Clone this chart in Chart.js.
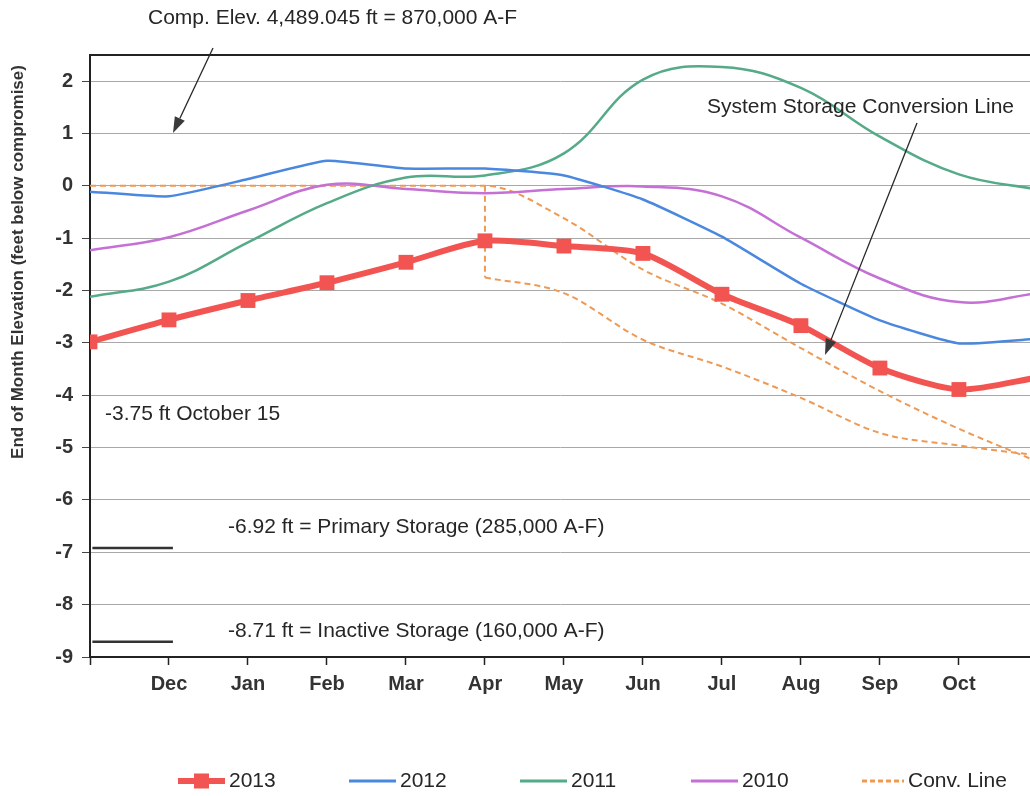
<!DOCTYPE html>
<html>
<head>
<meta charset="utf-8">
<script src="https://cdn.jsdelivr.net/npm/chart.js@4/dist/chart.umd.min.js"></script>
<style>
  html, body { margin: 0; padding: 0; background: #fff; overflow: hidden; }
  #wrap { position: relative; width: 1030px; height: 796px; }
</style>
</head>
<body>
<div id="wrap"><canvas id="elev"></canvas></div>
<script>
// x index: 0 = Nov (start of water year), 12 = Nov (next, runs off the right edge)
const monthX = [0, 1, 2, 3, 4, 5, 6, 7, 8, 9, 10, 11, 12];
const monthLabels = ['', 'Dec', 'Jan', 'Feb', 'Mar', 'Apr', 'May', 'Jun', 'Jul', 'Aug', 'Sep', 'Oct', ''];

// end of month elevation, feet below compromise
const y2013 = [-2.98, -2.56, -2.19, -1.85, -1.46, -1.05, -1.15, -1.29, -2.07, -2.67, -3.48, -3.89, -3.66];
const y2012 = [-0.11, -0.20, 0.13, 0.48, 0.33, 0.33, 0.20, -0.26, -0.97, -1.87, -2.57, -3.01, -2.92];
const y2011 = [-2.12, -1.83, -1.08, -0.33, 0.16, 0.20, 0.62, 2.03, 2.27, 1.87, 0.94, 0.22, -0.07];
const y2010 = [-1.23, -0.98, -0.47, 0.02, -0.06, -0.14, -0.06, -0.01, -0.20, -0.99, -1.77, -2.22, -2.05];

// system storage conversion line (upper and lower branch, drop at Apr)
const convUpper = [0, 0, 0, 0, 0, 0, -0.62, -1.60, -2.25, -3.10, -3.92, -4.64, -5.27];
const convLowerX = [5, 6, 7, 8, 9, 10, 11, 12];
const convLower = [-1.75, -2.05, -2.94, -3.45, -4.05, -4.72, -4.96, -5.15];
const convDropX = [5, 5];
const convDrop = [0, -1.75];

// storage levels marked at the left
const primaryX = [0.03, 1.05];
const primaryY = [-6.92, -6.92];
const inactiveX = [0.03, 1.05];
const inactiveY = [-8.71, -8.71];

const yTicks = [-9, -8, -7, -6, -5, -4, -3, -2, -1, 0, 1, 2];

const pts = (xs, ys) => xs.map((x, i) => ({ x: x, y: ys[i] }));

const RED = '#f25551';
const BLUE = '#4a88e0';
const GREEN = '#55aa88';
const PURPLE = '#c470d4';
const ORANGE = '#ee9a55';
const INK = '#262626';
const FONT = '"Liberation Sans", Arial, sans-serif';

const notes = [
	{ text: 'Comp. Elev. 4,489.045 ft = 870,000 A-F', x: 148, y: 18 },
	{ text: 'System Storage Conversion Line', x: 707, y: 107 },
	{ text: '-3.75 ft October 15', x: 105, y: 414 },
	{ text: '-6.92 ft = Primary Storage (285,000 A-F)', x: 228, y: 527 },
	{ text: '-8.71 ft = Inactive Storage (160,000 A-F)', x: 228, y: 631 },
];
const arrows = [
	{ from: [213, 48], to: [173, 133] },
	{ from: [917, 123], to: [825, 355] },
];

const drawArrow = (ctx, a) => {
	const [x1, y1] = a.from;
	const [x2, y2] = a.to;
	const ang = Math.atan2(y2 - y1, x2 - x1);
	const len = 16;
	const half = 5.5;
	const bx = x2 - len * Math.cos(ang);
	const by = y2 - len * Math.sin(ang);
	ctx.strokeStyle = INK;
	ctx.fillStyle = '#3a3a3a';
	ctx.lineWidth = 1.3;
	ctx.beginPath();
	ctx.moveTo(x1, y1);
	ctx.lineTo(bx, by);
	ctx.stroke();
	ctx.beginPath();
	ctx.moveTo(x2, y2);
	ctx.lineTo(bx + half * Math.sin(ang), by - half * Math.cos(ang));
	ctx.lineTo(bx - half * Math.sin(ang), by + half * Math.cos(ang));
	ctx.closePath();
	ctx.fill();
};

const notesPlugin = {
	id: 'notes',
	afterDraw(chart) {
		const ctx = chart.ctx;
		ctx.save();
		ctx.fillStyle = INK;
		ctx.font = '21px ' + FONT;
		ctx.textAlign = 'left';
		ctx.textBaseline = 'middle';
		notes.forEach((n) => ctx.fillText(n.text, n.x, n.y));
		arrows.forEach((a) => drawArrow(ctx, a));

		// y axis title
		ctx.translate(18, 262);
		ctx.rotate(-Math.PI / 2);
		ctx.textAlign = 'center';
		ctx.font = 'bold 17px ' + FONT;
		ctx.fillStyle = '#333';
		ctx.fillText('End of Month Elevation (feet below compromise)', 0, 0);
		ctx.restore();
	},
};

// legend drawn under the axis, spaced like the original sheet
const legendPlugin = {
	id: 'sheetLegend',
	afterDraw(chart) {
		const ctx = chart.ctx;
		const items = chart.data.datasets.filter((ds) => ds.inLegend);
		let x = 178;
		const y = 781;
		ctx.save();
		ctx.font = '21px ' + FONT;
		ctx.textBaseline = 'middle';
		items.forEach((ds) => {
			const w = ds.borderDash ? 42 : 47;
			ctx.strokeStyle = ds.borderColor;
			ctx.lineWidth = ds.pointStyle === 'rect' ? 6 : 3;
			ctx.setLineDash(ds.borderDash ? [5, 3] : []);
			ctx.beginPath();
			ctx.moveTo(x, y);
			ctx.lineTo(x + w, y);
			ctx.stroke();
			ctx.setLineDash([]);
			if (ds.pointStyle === 'rect') {
				ctx.fillStyle = ds.borderColor;
				ctx.fillRect(x + w / 2 - 7.5, y - 7.5, 15, 15);
			}
			ctx.fillStyle = INK;
			ctx.fillText(ds.label, x + w + 4, y);
			x += 171;
		});
		ctx.restore();
	},
};

const lineSet = (label, data, color, extra) => Object.assign({
	label: label,
	data: data,
	borderColor: color,
	backgroundColor: color,
	borderWidth: 2.5,
	pointRadius: 0,
	tension: 0.4,
	fill: false,
	inLegend: true,
}, extra || {});

const dashed = { borderWidth: 2, borderDash: [6, 4], cubicInterpolationMode: 'monotone' };

new Chart(document.getElementById('elev'), {
	type: 'line',
	data: {
		datasets: [
			lineSet('2013', pts(monthX, y2013), RED, {
				borderWidth: 6,
				pointStyle: 'rect',
				pointRadius: 10.5,
				pointBorderWidth: 0,
				pointBackgroundColor: RED,
				tension: 0.25,
				clip: { left: 0, top: 12, right: 0, bottom: 12 },
			}),
			lineSet('2012', pts(monthX, y2012), BLUE, { tension: 0.15 }),
			lineSet('2011', pts(monthX, y2011), GREEN),
			lineSet('2010', pts(monthX, y2010), PURPLE),
			lineSet('Conv. Line', pts(monthX, convUpper), ORANGE, dashed),
			lineSet('Conv. Line lower', pts(convLowerX, convLower), ORANGE, Object.assign({ inLegend: false }, dashed)),
			lineSet('Conv. Line drop', pts(convDropX, convDrop), ORANGE, { borderWidth: 2, borderDash: [6, 4], tension: 0, inLegend: false }),
			lineSet('Primary', pts(primaryX, primaryY), '#333', { borderWidth: 2.5, tension: 0, inLegend: false }),
			lineSet('Inactive', pts(inactiveX, inactiveY), '#333', { borderWidth: 2.5, tension: 0, inLegend: false }),
		],
	},
	options: {
		responsive: true,
		maintainAspectRatio: false,
		animation: false,
		events: [],
		layout: { autoPadding: false, padding: { top: 55, right: 0, bottom: 99, left: 0 } },
		plugins: {
			legend: { display: false },
			tooltip: { enabled: false },
		},
		scales: {
			x: {
				type: 'linear',
				min: 0,
				max: 11.9,
				afterBuildTicks: (scale) => {
					scale.ticks = monthX.filter((v) => v <= 11).map((v) => ({ value: v }));
				},
				afterFit: (scale) => {
					scale.height = 40;
					scale.paddingLeft = 0;
					scale.paddingRight = 0;
				},
				ticks: {
					callback: (v) => monthLabels[v] || '',
					autoSkip: false,
					maxRotation: 0,
					padding: 7,
					color: '#333',
					font: { family: FONT, size: 20, weight: 'bold' },
				},
				grid: {
					drawOnChartArea: false,
					tickLength: 8,
					tickColor: '#222',
					tickWidth: 1.5,
				},
				border: { color: '#222', width: 2 },
			},
			y: {
				min: -9,
				max: 2.5,
				afterBuildTicks: (scale) => {
					scale.ticks = yTicks.concat([2.5]).map((v) => ({ value: v }));
				},
				afterFit: (scale) => { scale.width = 90; },
				ticks: {
					callback: (v) => (Number.isInteger(v) ? String(v) : ''),
					padding: 9,
					color: '#333',
					font: { family: FONT, size: 20, weight: 'bold' },
				},
				grid: {
					color: (c) => (c.tick && c.tick.value === 2.5 ? '#222' : '#a8a8a8'),
					lineWidth: (c) => (c.tick && c.tick.value === 2.5 ? 2 : 1),
					tickLength: 8,
					tickColor: (c) => (c.tick && c.tick.value === 2.5 ? 'rgba(0,0,0,0)' : '#444'),
				},
				border: { color: '#222', width: 2 },
			},
		},
	},
	plugins: [notesPlugin, legendPlugin],
});
</script>
</body>
</html>
